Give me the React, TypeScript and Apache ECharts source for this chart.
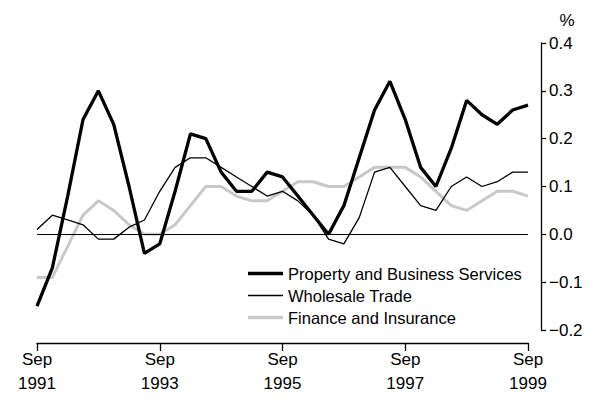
import React, { useEffect, useRef } from "react";
import * as echarts from "echarts";

const months = ["Mar", "Jun", "Sep", "Dec"];
const quarters: string[] = [];
for (let i = 0; i < 33; i++) {
  const q = (2 + i) % 4;
  const y = 1991 + Math.floor((2 + i) / 4);
  quarters.push(`${months[q]} ${y}`);
}

const propertyBusiness = [
  -0.15, -0.07, 0.08, 0.24, 0.3, 0.23, 0.1, -0.04, -0.02, 0.09, 0.21, 0.2,
  0.13, 0.09, 0.09, 0.13, 0.12, 0.08, 0.04, 0.0, 0.06, 0.16, 0.26, 0.32,
  0.24, 0.14, 0.1, 0.18, 0.28, 0.25, 0.23, 0.26, 0.27,
];
const wholesaleTrade = [
  0.01, 0.04, 0.03, 0.02, -0.01, -0.01, 0.015, 0.03, 0.09, 0.14, 0.16, 0.16,
  0.14, 0.12, 0.1, 0.08, 0.09, 0.07, 0.04, -0.01, -0.02, 0.035, 0.13, 0.14,
  0.1, 0.06, 0.05, 0.1, 0.12, 0.1, 0.11, 0.13, 0.13,
];
const financeInsurance = [
  -0.09, -0.09, -0.025, 0.04, 0.07, 0.05, 0.02, 0.0, 0.0, 0.02, 0.06, 0.1,
  0.1, 0.08, 0.07, 0.07, 0.09, 0.11, 0.11, 0.1, 0.1, 0.12, 0.14, 0.14, 0.14,
  0.12, 0.09, 0.06, 0.05, 0.07, 0.09, 0.09, 0.08,
];

const FONT = "Liberation Sans";

export default function App() {
  const ref = useRef<HTMLDivElement>(null);
  useEffect(() => {
    if (!ref.current) return;
    const chart = echarts.init(ref.current, undefined, { renderer: "svg" });
    chart.setOption({
      animation: false,
      backgroundColor: "#ffffff",
      textStyle: { fontFamily: FONT, color: "#000" },
      grid: { left: 37, right: 67, top: 43, bottom: 70 },
      legend: {
        orient: "vertical",
        left: 248,
        top: 265,
        padding: 0,
        itemWidth: 35,
        itemHeight: 14,
        itemGap: 5,
        symbolKeepAspect: true,
        textStyle: { fontFamily: FONT, fontSize: 16.5, color: "#000" },
        data: [
          {
            name: "Property and Business Services",
            icon: "path://M0,0H35V3.6H0Z",
          },
          { name: "Wholesale Trade", icon: "path://M0,0H35V1.3H0Z" },
          { name: "Finance and Insurance", icon: "path://M0,0H35V3.4H0Z" },
        ],
      },
      graphic: [
        {
          type: "text",
          x: 567,
          y: 20,
          style: {
            text: "%",
            fontFamily: FONT,
            fontSize: 17,
            fill: "#000",
            align: "center",
            verticalAlign: "middle",
          },
        },
      ],
      xAxis: {
        type: "category",
        data: quarters,
        boundaryGap: false,
        offset: 13,
        axisLine: {
          show: true,
          onZero: false,
          lineStyle: { color: "#000", width: 1.3 },
        },
        axisTick: {
          show: true,
          interval: 7,
          length: 8,
          lineStyle: { color: "#000", width: 1.3 },
        },
        axisLabel: {
          interval: 7,
          margin: 4,
          fontSize: 17,
          lineHeight: 24,
          color: "#000",
          fontFamily: FONT,
          formatter: (v: string) => v.replace(" ", "\n"),
        },
        splitLine: { show: false },
      },
      yAxis: {
        type: "value",
        position: "right",
        min: -0.2,
        max: 0.4,
        interval: 0.1,
        offset: 13,
        axisLine: { show: true, lineStyle: { color: "#000", width: 1.3 } },
        axisTick: {
          show: true,
          length: 5,
          lineStyle: { color: "#000", width: 1.3 },
        },
        axisLabel: {
          margin: 8,
          fontSize: 17,
          color: "#000",
          fontFamily: FONT,
          formatter: (v: number) => {
            const s = Math.abs(v).toFixed(1);
            return v < -1e-9 ? "\u2212" + s : s;
          },
        },
        splitLine: { show: false },
      },
      series: [
        {
          name: "Finance and Insurance",
          type: "line",
          data: financeInsurance,
          symbol: "none",
          lineStyle: { color: "#c8c8c8", width: 3 },
          itemStyle: { color: "#c8c8c8" },
          z: 2,
        },
        {
          name: "Wholesale Trade",
          type: "line",
          data: wholesaleTrade,
          symbol: "none",
          lineStyle: { color: "#000", width: 1.3 },
          itemStyle: { color: "#000" },
          z: 3,
          markLine: {
            silent: true,
            symbol: "none",
            label: { show: false },
            lineStyle: { color: "#000", width: 1.2, type: "solid" },
            data: [{ yAxis: 0 }],
          },
        },
        {
          name: "Property and Business Services",
          type: "line",
          data: propertyBusiness,
          symbol: "none",
          lineStyle: { color: "#000", width: 3.3 },
          itemStyle: { color: "#000" },
          z: 4,
        },
      ],
    });
    return () => chart.dispose();
  }, []);
  return (
    <div
      ref={ref}
      style={{ position: "fixed", left: 0, top: 0, width: 595, height: 400 }}
    />
  );
}
